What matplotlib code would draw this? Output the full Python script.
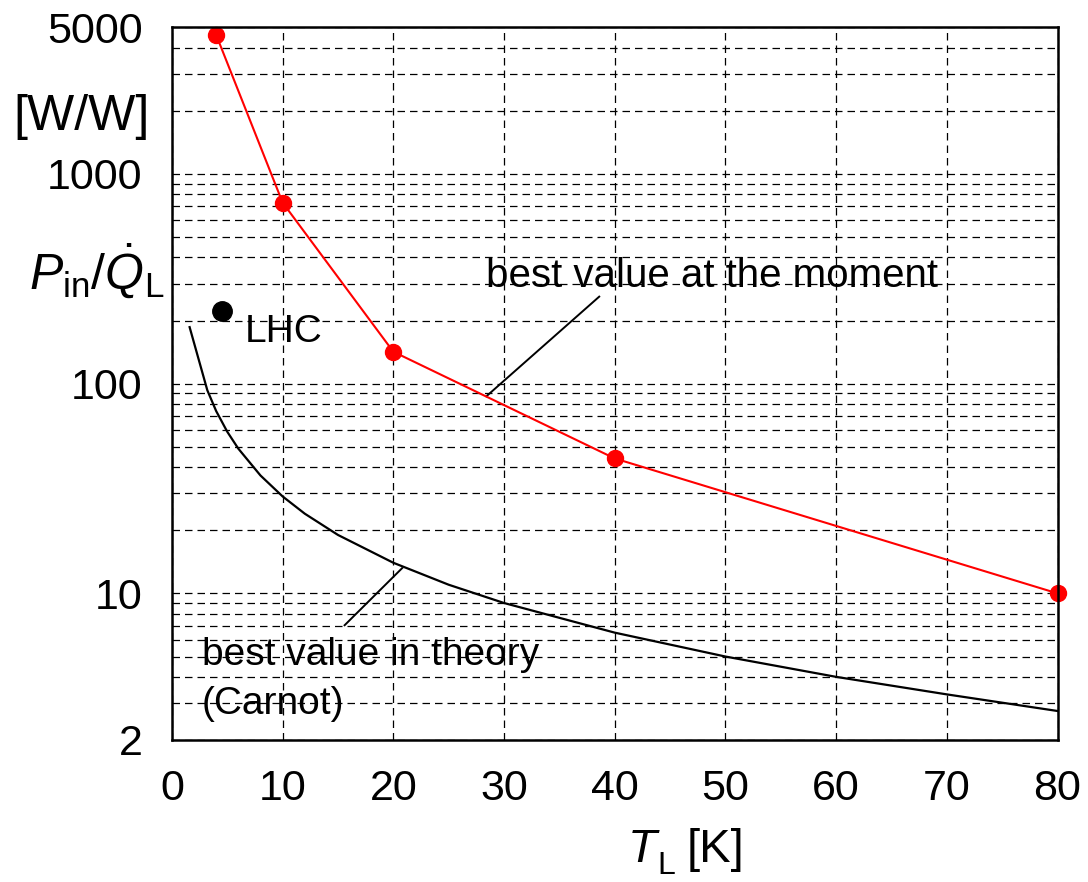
import numpy as np
import matplotlib
matplotlib.use('Agg')
import matplotlib.pyplot as plt
from matplotlib.ticker import FixedLocator, NullFormatter, LogLocator

plt.rcParams['font.family'] = ['Liberation Sans', 'DejaVu Sans']
plt.rcParams['mathtext.fontset'] = 'custom'
plt.rcParams['mathtext.rm'] = 'Liberation Sans'
plt.rcParams['mathtext.it'] = 'Liberation Sans:italic'

# best value at the moment (red)
t_best = [4, 10, 20, 40, 80]
p_best = [4600, 730, 142, 44, 10]

# best value in theory, Carnot (black curve)
t_carnot = [1.6, 3.2, 4, 5, 6, 8, 10, 12, 15, 20, 25, 30, 40, 50, 60, 70, 80]
p_carnot = [186, 93, 74, 59, 49, 36.5, 29, 24, 19, 14, 11, 9, 6.5, 5, 4, 3.3, 2.75]

# LHC point
t_lhc = [4.5]
p_lhc = [223]

x_ticks = [0, 10, 20, 30, 40, 50, 60, 70, 80]
y_ticks = [2, 10, 100, 1000, 5000]

W, H = 1088, 882
fig = plt.figure(figsize=(W / 100, H / 100), dpi=100)
ax = fig.add_axes([0.158, 0.161, 0.814, 0.808])

ax.set_yscale('log')
ax.set_xlim(0, 80)
ax.set_ylim(2, 5000)

ax.plot(t_carnot, p_carnot, color='black', lw=1.6, zorder=3)
ax.plot(t_best, p_best, color='red', lw=1.5, marker='o', ms=11.5,
        clip_on=False, zorder=4)
ax.plot(t_lhc, p_lhc, 'o', color='black', ms=14, zorder=4)

# grid
ax.xaxis.set_major_locator(FixedLocator(x_ticks))
ax.yaxis.set_major_locator(FixedLocator(y_ticks))
ax.yaxis.set_minor_locator(LogLocator(base=10, subs=np.arange(2, 10)))
ax.yaxis.set_minor_formatter(NullFormatter())
ax.set_yticklabels([str(v) for v in y_ticks])
ax.grid(True, which='both', axis='y', color='black', lw=0.9, ls=(0, (6, 4)), zorder=1)
ax.grid(True, which='major', axis='x', color='black', lw=0.9, ls=(0, (6, 4)), zorder=1)

ax.tick_params(which='both', length=0, labelsize=31)
ax.tick_params(axis='y', pad=21)
ax.tick_params(axis='x', pad=21)
for s in ax.spines.values():
    s.set_linewidth(1.8)
    s.set_zorder(5)

# annotations
ax.text(28.4, 325, 'best value at the moment', fontsize=29, ha='left', va='center')
ax.plot([38.6, 28.4], [260, 87], color='black', lw=1.4, zorder=3)

ax.text(2.7, 5.07, 'best value in theory', fontsize=28, ha='left', va='center')
ax.text(2.7, 2.96, '(Carnot)', fontsize=28, ha='left', va='center')
ax.plot([15.6, 20.8], [7.05, 13.2], color='black', lw=1.4, zorder=3)

ax.text(6.6, 177, 'LHC', fontsize=28, ha='left', va='center')

# axis labels
fig.text(0.0754, 0.867, '[W/W]', fontsize=36, ha='center', va='center')
fig.text(0.0887, 0.673, r'$P_{\rm in}/\dot{Q}_{\rm L}$', fontsize=36,
         ha='center', va='baseline')
fig.text(628 / W, 1 - 862 / H, 'T', fontsize=34, style='italic',
         ha='left', va='baseline')
fig.text(657 / W, 1 - 874 / H, 'L', fontsize=23, ha='left', va='baseline')
fig.text(687 / W, 1 - 862 / H, '[K]', fontsize=34, ha='left', va='baseline')

fig.savefig('out.png', dpi=100)
